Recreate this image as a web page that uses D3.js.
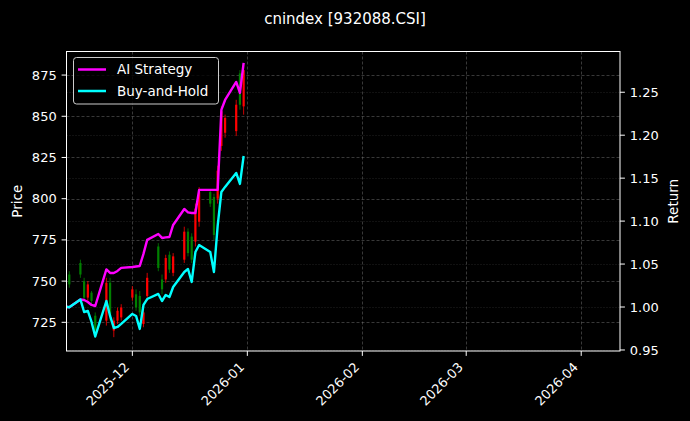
<!DOCTYPE html>
<html><head><meta charset="utf-8">
<script src="https://cdn.jsdelivr.net/npm/d3@7/dist/d3.min.js"></script>
<style>html,body{margin:0;padding:0;background:#000;}svg{display:block;}</style>
</head><body>
<script>
const dates = ["2025-11-13","2025-11-14","2025-11-17","2025-11-18","2025-11-19","2025-11-20","2025-11-21",
"2025-11-24","2025-11-25","2025-11-26","2025-11-27","2025-11-28",
"2025-12-01","2025-12-02","2025-12-03","2025-12-04","2025-12-05",
"2025-12-08","2025-12-09","2025-12-10","2025-12-11","2025-12-12",
"2025-12-15","2025-12-16","2025-12-17","2025-12-18","2025-12-19",
"2025-12-22","2025-12-23","2025-12-24","2025-12-25","2025-12-26",
"2025-12-29","2025-12-30","2025-12-31"];
const open  = [745,748,754,740,748,738,720,749,729,726,732,734,745,734,731,731,752,758,745,764,757,765,780,767,763,794,804,797,778,817,853,849,857,857,878];
const high  = [750,756,763,752,750,744,731,752,752,728,734,736,747,745,744,733,755,773,754,766,768,767,783,782,779,797,807,805,803,820,856,851,860,878,881];
const low   = [742,746,752,738,738,736,718,723,726,716,724,726,738,732,729,722,738,756,742,749,755,753,761,765,761,771,783,795,775,797,829,837,838,854,851];
const close = [747,754,761,750,740,743,729,726,749,720,726,728,740,742,741,724,741,771,751,751,766,755,763,780,777,774,786,804,801,800,832,840,841,876,856];
const aiReturn = [1.0005,0.9997,1.0088,1.0082,1.0059,1.0024,1.0012,1.0437,1.0396,1.0396,1.0420,1.0455,
1.0466,1.0472,1.0478,1.0618,1.0781,1.0850,1.0804,1.0810,1.0815,1.0955,1.1141,1.1101,1.1095,1.1095,1.1363,
1.1363,1.1363,1.1363,1.2294,1.2410,1.2620,1.2492,1.2841];
const bhReturn = [1.0005,0.9997,1.0088,0.9942,0.9954,0.9826,0.9657,1.0070,0.9896,0.9756,0.9768,0.9803,
0.9919,0.9896,0.9745,1.0024,1.0093,1.0152,1.0070,1.0140,1.0117,1.0233,1.0408,1.0443,1.0292,1.0640,1.0722,
1.0641,1.0408,1.0944,1.1339,1.1398,1.1561,1.1433,1.1758];
const priceTicks = [725,750,775,800,825,850,875];
const returnTicks = [0.95,1.00,1.05,1.10,1.15,1.20,1.25];
const monthTicks = ["2025-12-01","2026-01-01","2026-02-01","2026-03-01","2026-04-01"];
const title = "cnindex [932088.CSI]";
const seriesNames = ["AI Strategy","Buy-and-Hold"];

const W=690,H=421;
const L=66.5,R=620,T=51.5,B=351;
const parse = d3.utcParse("%Y-%m-%d");
const pd = dates.map(parse);
const x = d3.scaleUtc().domain([Date.UTC(2025,10,13,6), Date.UTC(2026,3,11,11)]).range([L,R]);
const yP = d3.scaleLinear().domain([707.6,889.6]).range([B,T-0.5]);
const yR = d3.scaleLinear().domain([0.9488,1.298]).range([B,T-0.5]);

const svg = d3.select("body").append("svg").attr("width",W).attr("height",H);
svg.append("rect").attr("width",W).attr("height",H).attr("fill","#000");
const font = "DejaVu Sans, sans-serif";

svg.append("defs").append("clipPath").attr("id","clip").append("rect")
  .attr("x",L).attr("y",T).attr("width",R-L).attr("height",B-T);

// grids
const grid = svg.append("g");
grid.selectAll(".gx").data(monthTicks.map(parse)).enter().append("line")
  .attr("x1",d=>Math.round(x(d))+0.5).attr("x2",d=>Math.round(x(d))+0.5).attr("y1",T).attr("y2",B)
  .attr("stroke","#808080").attr("stroke-opacity",0.55).attr("stroke-dasharray","3,2").attr("stroke-width",0.8);
grid.selectAll(".gp").data(priceTicks).enter().append("line")
  .attr("x1",L).attr("x2",R).attr("y1",d=>Math.round(yP(d))+0.5).attr("y2",d=>Math.round(yP(d))+0.5)
  .attr("stroke","#808080").attr("stroke-opacity",0.55).attr("stroke-dasharray","3,2").attr("stroke-width",0.8);
grid.selectAll(".gr").data(returnTicks).enter().append("line")
  .attr("x1",L).attr("x2",R).attr("y1",d=>Math.round(yR(d))+0.5).attr("y2",d=>Math.round(yR(d))+0.5)
  .attr("stroke","#808080").attr("stroke-opacity",0.35).attr("stroke-dasharray","1,2").attr("stroke-width",0.8);

// candles
const plot = svg.append("g").attr("clip-path","url(#clip)");
const idx = d3.range(dates.length);
const col = i => close[i]>=open[i] ? "#008000" : "#ff0000";
plot.selectAll(".wick").data(idx).enter().append("line")
  .attr("x1",i=>x(pd[i])).attr("x2",i=>x(pd[i]))
  .attr("y1",i=>yP(high[i])).attr("y2",i=>yP(low[i]))
  .attr("stroke",col).attr("stroke-width",0.8);
plot.selectAll(".body").data(idx).enter().append("rect")
  .attr("x",i=>x(pd[i])-1.1).attr("width",2.2)
  .attr("y",i=>yP(Math.max(open[i],close[i])))
  .attr("height",i=>Math.max(0.8,Math.abs(yP(open[i])-yP(close[i]))))
  .attr("fill",col);

// lines
const line = arr => d3.line().x((d,i)=>x(pd[i])).y(d=>yR(d))(arr);
plot.append("path").attr("d",line(aiReturn)).attr("fill","none").attr("stroke","#ff00ff").attr("stroke-width",2.4).attr("stroke-linejoin","round");
plot.append("path").attr("d",line(bhReturn)).attr("fill","none").attr("stroke","#00ffff").attr("stroke-width",2.4).attr("stroke-linejoin","round");

// spines
svg.append("rect").attr("x",L).attr("y",T).attr("width",R-L).attr("height",B-T)
  .attr("fill","none").attr("stroke","#fff").attr("stroke-width",1);

const tl = 4.9, pad = 4.9, fs = 13;
const lt = svg.append("g");
priceTicks.forEach(v=>{
  const yy = yP(v);
  lt.append("line").attr("x1",L-tl).attr("x2",L).attr("y1",yy).attr("y2",yy).attr("stroke","#fff");
  lt.append("text").attr("x",L-tl-pad).attr("y",yy).attr("dy","0.35em").attr("text-anchor","end")
    .attr("fill","#fff").attr("font-family",font).attr("font-size",fs).text(d3.format("d")(v));
});
returnTicks.forEach(v=>{
  const yy = yR(v);
  lt.append("line").attr("x1",R).attr("x2",R+tl).attr("y1",yy).attr("y2",yy).attr("stroke","#fff");
  lt.append("text").attr("x",R+tl+pad).attr("y",yy).attr("dy","0.35em").attr("text-anchor","start")
    .attr("fill","#fff").attr("font-family",font).attr("font-size",fs).text(d3.format(".2f")(v));
});
const fmt = d3.utcFormat("%Y-%m");
monthTicks.map(parse).forEach(d=>{
  const xx = x(d);
  lt.append("line").attr("x1",xx).attr("x2",xx).attr("y1",B).attr("y2",B+tl).attr("stroke","#fff");
  lt.append("text").attr("transform",`translate(${xx-2.3},${B+tl+pad+7.2}) rotate(-45)`)
    .attr("text-anchor","end").attr("fill","#fff").attr("font-family",font).attr("font-size",fs).text(fmt(d));
});

svg.append("text").attr("transform",`translate(21.5,${(T+B)/2}) rotate(-90)`).attr("text-anchor","middle")
  .attr("fill","#fff").attr("font-family",font).attr("font-size",13.5).text("Price");
svg.append("text").attr("transform",`translate(678,${(T+B)/2}) rotate(-90)`).attr("text-anchor","middle")
  .attr("fill","#fff").attr("font-family",font).attr("font-size",13.5).text("Return");

svg.append("text").attr("x",W/2).attr("y",24).attr("text-anchor","middle")
  .attr("fill","#fff").attr("font-family",font).attr("font-size",15).text(title);

const lg = svg.append("g");
lg.append("rect").attr("x",73.5).attr("y",57.5).attr("width",145).attr("height",46.5).attr("rx",3)
  .attr("fill","#000").attr("fill-opacity",0.8).attr("stroke","#cccccc").attr("stroke-width",1);
[["#ff00ff",69.5],["#00ffff",91]].forEach((c,i)=>{
  lg.append("line").attr("x1",78).attr("x2",106).attr("y1",c[1]).attr("y2",c[1]).attr("stroke",c[0]).attr("stroke-width",2.5);
  lg.append("text").attr("x",117).attr("y",c[1]).attr("dy","0.36em").attr("fill","#fff")
    .attr("font-family",font).attr("font-size",13.5).text(seriesNames[i]);
});
</script>
</body></html>
